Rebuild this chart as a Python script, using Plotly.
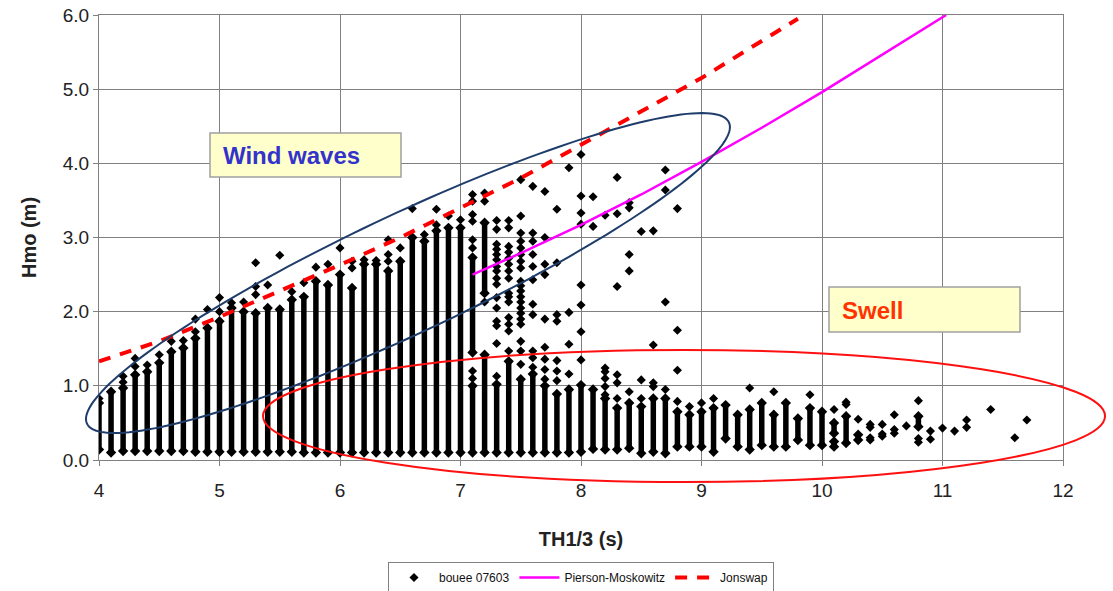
import numpy as np
import plotly.graph_objects as go

# ---------------- data ----------------
# dense vertical runs of buoy points: period (s), lowest and highest Hm0 (m)
seg_x  = [4.0, 4.1, 4.2, 4.3, 4.4, 4.5, 4.6, 4.7, 4.8, 4.9,
          5.0, 5.1, 5.2, 5.3, 5.4, 5.5, 5.6, 5.7, 5.8, 5.9,
          6.0, 6.1, 6.2, 6.3, 6.4, 6.5, 6.6, 6.7, 6.8, 6.9,
          7.0, 7.1, 7.1, 7.2, 7.2, 7.3, 7.4, 7.5, 7.6, 7.7, 7.8, 7.9,
          8.0, 8.1, 8.2, 8.3, 8.4, 8.5, 8.6, 8.7, 8.8, 8.9,
          9.0, 9.1, 9.2, 9.3, 9.4, 9.5, 9.6, 9.7, 9.8, 9.9,
          10.0, 10.1, 10.1, 10.2, 10.3, 10.8]
seg_lo = [0.14, 0.10, 0.12, 0.12, 0.12, 0.12, 0.12, 0.12, 0.11, 0.11,
          0.11, 0.11, 0.11, 0.11, 0.11, 0.11, 0.11, 0.10, 0.10, 0.10,
          0.10, 0.10, 0.10, 0.10, 0.10, 0.10, 0.10, 0.10, 0.10, 0.10,
          0.10, 0.10, 1.45, 0.10, 2.25, 0.10, 0.10, 0.10, 0.10, 0.10, 0.10, 0.10,
          0.11, 0.15, 0.14, 0.14, 0.16, 0.09, 0.11, 0.09, 0.18, 0.18,
          0.18, 0.11, 0.29, 0.18, 0.14, 0.20, 0.18, 0.18, 0.27, 0.20,
          0.20, 0.18, 0.36, 0.23, 0.27, 0.45]
seg_hi = [0.77, 0.92, 0.97, 1.15, 1.19, 1.31, 1.46, 1.51, 1.64, 1.78,
          1.87, 2.05, 2.00, 1.98, 2.05, 2.03, 2.16, 2.20, 2.41, 2.36,
          2.50, 2.32, 2.64, 2.64, 2.55, 2.68, 3.00, 2.95, 3.09, 3.13,
          3.13, 1.00, 2.73, 1.42, 3.20, 1.02, 1.33, 1.09, 1.16, 1.00, 0.89, 0.95,
          1.01, 0.95, 0.83, 0.70, 0.77, 0.72, 0.83, 0.83, 0.65, 0.61,
          0.65, 0.70, 0.74, 0.61, 0.68, 0.77, 0.61, 0.77, 0.56, 0.70,
          0.65, 0.25, 0.50, 0.59, 0.34, 0.59]

# isolated buoy points: period (s) and the Hm0 values (m) seen in that column
pt_cols = [4.0, 4.2, 4.3, 4.4, 4.5, 4.6, 4.7, 4.8, 4.9, 5.0,
           5.1, 5.2, 5.3, 5.4, 5.5, 5.6, 5.7, 5.8, 5.9, 6.0,
           6.1, 6.2, 6.3, 6.4, 6.5, 6.6, 6.7, 6.8, 6.9, 7.0,
           7.1, 7.2, 7.3, 7.4, 7.5, 7.6, 7.7, 7.8, 7.9, 8.0,
           8.1, 8.2, 8.3, 8.4, 8.5, 8.6, 8.7, 8.8, 8.9, 9.0,
           9.1, 9.4, 9.6, 9.9, 10.1, 10.2, 10.3, 10.4, 10.5, 10.6,
           10.7, 10.8, 10.9, 11.0, 11.1, 11.2, 11.4, 11.6, 11.7]
pt_vals = [[0.83], [1.05, 1.13], [1.26, 1.37], [1.28], [1.42], [1.60], [1.61], [1.73, 1.90], [2.03], [2.00, 2.19],
           [2.12], [2.13], [2.23, 2.34, 2.66], [2.36], [2.76], [2.27], [2.39], [2.60], [2.64], [2.86],
           [2.59, 2.68], [2.70], [2.69], [2.68, 2.77, 2.97], [2.86], [3.39], [3.04], [3.17, 3.38], [3.29], [3.24],
           [1.10, 1.20, 2.86, 2.97, 3.22, 3.31, 3.49, 3.58],
           [2.13, 3.49, 3.60],
           [1.13, 1.57, 1.81, 1.87, 2.05, 2.19, 2.37, 2.45, 2.55, 2.61, 2.70, 2.77, 2.84, 2.91, 3.11, 3.23],
           [1.47, 1.74, 1.83, 1.92, 2.13, 2.20, 2.25, 2.45, 2.55, 2.64, 2.72, 2.80, 2.88, 3.13, 3.23],
           [1.29, 1.47, 1.60, 1.83, 1.90, 1.98, 2.05, 2.13, 2.20, 2.28, 2.35, 2.41, 2.59, 2.68, 2.77, 2.86, 2.95, 3.06, 3.29, 3.78],
           [1.25, 1.38, 1.47, 1.96, 2.10, 2.43, 2.61, 2.77, 2.95, 3.06, 3.69],
           [1.09, 1.22, 1.36, 1.52, 1.90, 2.50, 2.64, 3.00, 3.62],
           [1.07, 1.20, 1.34, 1.87, 1.96, 2.66, 3.38],
           [1.16, 1.56, 1.99, 3.94],
           [1.35, 1.73, 2.09, 2.36, 3.18, 3.33, 3.56, 4.12],
           [3.15, 3.55], [0.88, 0.99, 1.10, 1.19, 1.24, 3.30], [0.83, 1.04, 1.15, 2.34, 3.32, 3.81],
           [0.92, 2.55, 2.77, 3.40, 3.47], [0.83, 1.08, 3.08], [0.99, 1.04, 1.55, 3.09],
           [0.95, 2.13, 3.64, 3.91], [0.79, 1.21, 1.75, 3.39], [0.72], [0.77],
           [0.83], [0.97], [0.92], [0.88], [0.68], [0.75, 0.78], [0.55], [0.27, 0.30, 0.44, 0.48], [0.32, 0.35, 0.48], [0.36, 0.41, 0.61],
           [0.46], [0.24, 0.29, 0.80], [0.28, 0.39], [0.43], [0.39], [0.44, 0.54], [0.68], [0.30], [0.54]]

# Pierson-Moskowitz curve (period s, Hm0 m)
pm_x = [7.1, 7.5, 8.0, 8.5, 9.0, 9.5, 10.0, 10.5, 11.03]
pm_y = [2.50, 2.79, 3.17, 3.58, 4.02, 4.48, 4.96, 5.47, 6.00]

# Jonswap curve (period s, Hm0 m)
js_x = [4.0, 4.5, 5.0, 5.5, 6.0, 6.5, 7.0, 7.5, 8.0, 8.5, 9.0, 9.5, 9.8]
js_y = [1.33, 1.60, 1.93, 2.28, 2.63, 3.00, 3.40, 3.80, 4.25, 4.70, 5.15, 5.65, 5.95]

x_ticks = [4, 5, 6, 7, 8, 9, 10, 11, 12]
y_ticks = [0, 1, 2, 3, 4, 5, 6]

# --------------------------------------------------------------
XMIN, XMAX, YMIN, YMAX = 4, 12, 0, 6
W, H = 1113, 591

col_x, col_y = [], []
for x, lo, hi in zip(seg_x, seg_lo, seg_hi):
    col_x += [x, x, None]
    col_y += [lo, hi, None]

px_, py_ = [], []
for x, ys in zip(pt_cols, pt_vals):
    for y in ys:
        px_.append(x)
        py_.append(y)

fig = go.Figure()
fig.add_trace(go.Scatter(x=col_x, y=col_y, mode="lines+markers",
                         line=dict(color="black", width=5.5),
                         marker=dict(symbol="diamond", size=8, color="black"),
                         showlegend=False, hoverinfo="skip"))
fig.add_trace(go.Scatter(x=px_, y=py_, mode="markers", name="bouee 07603",
                         marker=dict(symbol="diamond", size=7, color="black")))
fig.add_trace(go.Scatter(x=pm_x, y=pm_y, mode="lines", name="Pierson-Moskowitz",
                         line=dict(color="#FF00FF", width=2.5)))
fig.add_trace(go.Scatter(x=js_x, y=js_y, mode="lines", name="Jonswap",
                         line=dict(color="#FF0000", width=4, dash="12px,10px")))

def to_paper(x, y):
    return (np.asarray(x) - XMIN) / (XMAX - XMIN), (np.asarray(y) - YMIN) / (YMAX - YMIN)

# tilted ellipse ("Wind waves")
t = np.linspace(0, 2 * np.pi, 181)
ex = 6.564 + 2.672 * np.cos(t)
ey = 2.521 + 1.968 * np.cos(t) + 0.883 * np.sin(t)
qx, qy = to_paper(ex, ey)
path = "M " + " L ".join(f"{a:.5f},{b:.5f}" for a, b in zip(qx, qy)) + " Z"
shapes = [dict(type="path", xref="paper", yref="paper", path=path,
               line=dict(color="#1F3D6B", width=2))]
# swell ellipse
rx0, ry0 = to_paper(8.855 - 3.494, 0.593 - 0.890)
rx1, ry1 = to_paper(8.855 + 3.494, 0.593 + 0.890)
shapes.append(dict(type="circle", xref="paper", yref="paper",
                   x0=rx0, y0=ry0, x1=rx1, y1=ry1,
                   line=dict(color="#FF1010", width=2)))

# label boxes (pixel geometry of plot area: x 99..1063, y 15..460)
L, R, T, B = 99, 1063, 15, 460
def pxp(px): return (px - L) / (R - L)
def pyp(py): return (B - py) / (B - T)

shapes.append(dict(type="rect", xref="paper", yref="paper",
                   x0=pxp(210), x1=pxp(401), y0=pyp(177), y1=pyp(133),
                   fillcolor="#FFFFCC", line=dict(color="#A0A0A0", width=1.5)))
shapes.append(dict(type="rect", xref="paper", yref="paper",
                   x0=pxp(829), x1=pxp(1020), y0=pyp(332), y1=pyp(287),
                   fillcolor="#FFFFCC", line=dict(color="#A0A0A0", width=1.5)))

annotations = [
    dict(xref="paper", yref="paper", x=pxp(221), y=pyp(155), xanchor="left", yanchor="middle",
         text="<b>Wind waves</b>", showarrow=False,
         font=dict(family="Liberation Sans, Arial", size=24, color="#3333CC")),
    dict(xref="paper", yref="paper", x=pxp(840), y=pyp(310), xanchor="left", yanchor="middle",
         text="<b>Swell</b>", showarrow=False,
         font=dict(family="Liberation Sans, Arial", size=24, color="#FF3300")),
]

fig.update_layout(
    width=W, height=H, autosize=False,
    margin=dict(l=L, r=W - R, t=T, b=H - B, autoexpand=False),
    paper_bgcolor="white", plot_bgcolor="white",
    font=dict(family="Liberation Sans, Arial", color="#222222"),
    shapes=shapes, annotations=annotations,
    legend=dict(orientation="h", xref="container", yref="container",
                x=581 / W, xanchor="center", y=1 - 562 / H, yanchor="top",
                bordercolor="#808080", borderwidth=1, font=dict(size=12, color="#111111"),
                itemwidth=40, tracegroupgap=0),
    xaxis=dict(range=[XMIN, XMAX], tickvals=x_ticks, ticktext=[str(v) for v in x_ticks],
               showgrid=True, gridcolor="#808080", gridwidth=1, automargin=False,
               showline=True, linecolor="#808080", linewidth=1, mirror=True,
               ticks="outside", ticklen=5, tickcolor="#808080", ticklabelstandoff=8,
               tickfont=dict(size=19, color="#222222"), zeroline=False,
               title=dict(text="<b>TH1/3 (s)</b>", font=dict(size=20, color="#222222"), standoff=32)),
    yaxis=dict(range=[YMIN, YMAX], tickvals=y_ticks, ticktext=[f"{v:.1f}" for v in y_ticks],
               showgrid=True, gridcolor="#808080", gridwidth=1, automargin=False,
               showline=True, linecolor="#808080", linewidth=1, mirror=True,
               ticks="outside", ticklen=5, tickcolor="#808080",
               tickfont=dict(size=19, color="#222222"), zeroline=False,
               title=dict(text="<b>Hmo (m)</b>", font=dict(size=20, color="#222222"), standoff=20)),
)

fig.write_html("out.html", config={"displayModeBar": False},
               post_script="document.body.style.margin='0';document.body.style.overflow='hidden';")
